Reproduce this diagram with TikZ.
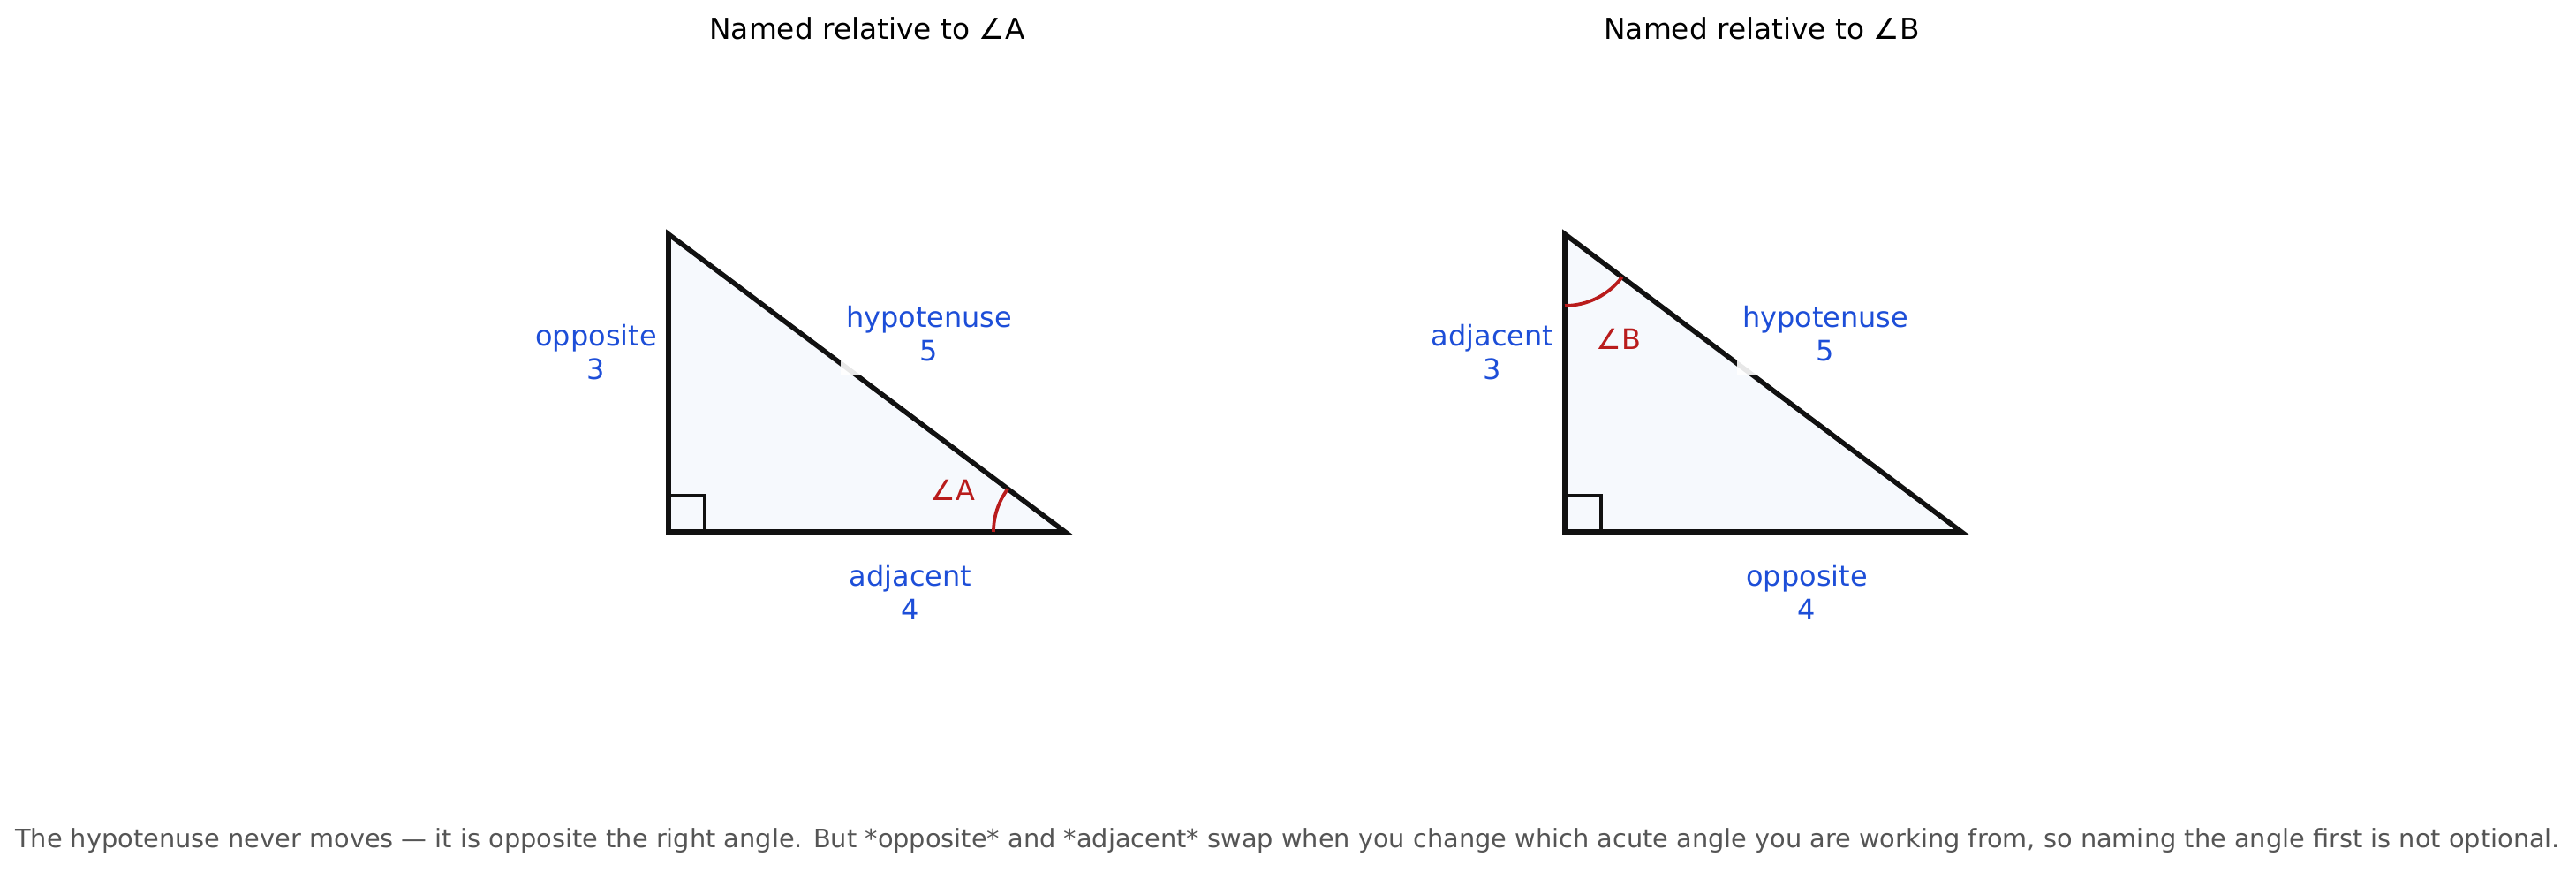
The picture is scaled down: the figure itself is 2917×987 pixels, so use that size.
\documentclass[tikz,border=0pt]{standalone}
\usepackage{fontspec}
\setmainfont{DejaVu Sans}
\definecolor{lblblue}{HTML}{1D4ED8}
\definecolor{angred}{HTML}{B91C1C}
\definecolor{capgray}{HTML}{555555}
\definecolor{trifill}{HTML}{F6F9FD}
\definecolor{edgeblk}{HTML}{111111}
\begin{document}
\begin{tikzpicture}[x=0.36bp,y=0.36bp,
  tri/.style={draw=edgeblk, line width=2bp, fill=trifill, line join=miter},
  rightsq/.style={draw=edgeblk, line width=1.2bp},
  angarc/.style={draw=angred, line width=1.35bp},
  side/.style={text=lblblue, font=\fontsize{11.5bp}{13.7bp}\selectfont, align=center, inner sep=0pt},
  hyp/.style={side, fill=white, fill opacity=0.9, text opacity=1, inner xsep=2.2bp, inner ysep=5.4bp},
  anglbl/.style={text=angred, font=\fontsize{11.5bp}{13.7bp}\selectfont, inner sep=0pt},
  ttl/.style={font=\fontsize{11.8bp}{14bp}\selectfont, text=black, anchor=base, inner sep=0pt},
  captxt/.style={font=\fontsize{10.37bp}{12.5bp}\selectfont, text=capgray, anchor=base, inner sep=0pt}]
\useasboundingbox (0,0) rectangle (2917,987);
\fill[white] (0,0) rectangle (2917,987);
% left triangle
\coordinate (C1) at (757,385);
\coordinate (T1) at (757,722);
\coordinate (R1) at (1206,385);
\draw[tri] (C1) -- (R1) -- (T1) -- cycle;
\draw[rightsq] (C1) ++(0,41) -- ++(41,0) -- ++(0,-41);
\draw[angarc] (R1) ++(180:81) arc[start angle=180, end angle=143.13, radius=81];
% right triangle
\coordinate (C2) at (1772,385);
\coordinate (T2) at (1772,722);
\coordinate (R2) at (2221,385);
\draw[tri] (C2) -- (R2) -- (T2) -- cycle;
\draw[rightsq] (C2) ++(0,41) -- ++(41,0) -- ++(0,-41);
\draw[angarc] (T2) ++(270:81) arc[start angle=270, end angle=323.13, radius=81];
% labels left
\node[side] (opp1) at (675,588) {opposite\\3};
\node[hyp] (hyp1) at (1052,609) {hypotenuse\\5};
\node[side] (adj1) at (1031,317) {adjacent\\4};
\node[anglbl] (angA) at (1079,432) {∠A};
% labels right
\node[side] (adj2) at (1690,588) {adjacent\\3};
\node[hyp] (hyp2) at (2067,609) {hypotenuse\\5};
\node[side] (opp2) at (2046,317) {opposite\\4};
\node[anglbl] (angB) at (1833,603) {∠B};
% titles
\node[ttl] (t1) at (982,942) {Named relative to ∠A};
\node[ttl] (t2) at (1995,942) {Named relative to ∠B};
% caption
\node[captxt] (capn) at (1458,27) {The hypotenuse never moves — it is opposite the right angle. But *opposite* and *adjacent* swap when you change which acute angle you are working from, so naming the angle first is not optional.};
\end{tikzpicture}
\end{document}
